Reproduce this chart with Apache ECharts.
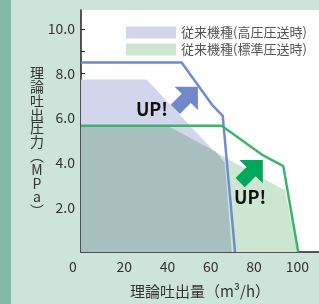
<!DOCTYPE html>
<html>
<head>
<meta charset="utf-8">
<script src="https://cdn.jsdelivr.net/npm/echarts@6/dist/echarts.min.js"></script>
<style>
  html, body { margin: 0; padding: 0; background: #cde4da; }
  #main { width: 319px; height: 304px; }
</style>
</head>
<body>
<div id="main"></div>
<script>
// 従来機種・新機種の吐出性能 [吐出量 m3/h, 吐出圧力 MPa]
const convHigh = [[0, 7.73], [30.3, 7.73], [66.5, 4.0], [69.7, 0]];
const convStd = [[0, 5.6], [41, 5.6], [94.2, 2.77], [100.2, 0]];
const overlap = [[0, 5.6], [41, 5.6], [62.3, 4.5], [66.5, 4.0], [69.7, 0]];
const newHigh = [[0, 8.5], [46.5, 8.5], [61, 6.55], [65.5, 6.1], [71.2, 0]];
const newStd = [[0, 5.66], [65, 5.66], [84.2, 4.33], [93.5, 3.85], [100.4, 0]];
const legendNames = ["従来機種(高圧圧送時)", "従来機種(標準圧送時)"];
const xLabels = [0, 20, 40, 60, 80, 100];
const xTicks = [10, 20, 30, 40, 50, 60, 70, 80, 90, 100];
const yLabels = [2, 4, 6, 8, 10];
const yTicks = [1, 2, 3, 4, 5, 6, 7, 8, 9, 10];
const yName = ["理", "論", "吐", "出", "圧", "力", "︵", "M", "P", "a", "︶"];
// 矢印・UP! の位置
const upHigh = { arrow: [48.8, 6.9], text: [32.8, 6.4] };
const upStd = { arrow: [78.8, 3.62], text: [78.1, 2.44] };

const FONT = "'Noto Sans CJK JP', 'Noto Sans', sans-serif";
const arrowPath = "path://M16.5 0 L33 16.5 L23 16.5 L23 32 L10 32 L10 16.5 L0 16.5 Z";

const myChart = echarts.init(document.getElementById("main"));

function area(name, data, color) {
  return {
    name: name,
    type: "line",
    data: data,
    symbol: "none",
    silent: true,
    lineStyle: { width: 0 },
    itemStyle: { color: color },
    areaStyle: { color: color, opacity: 1 },
  };
}

function upMarks(up, color) {
  return {
    silent: true,
    data: [
      {
        coord: up.arrow,
        symbol: arrowPath,
        symbolSize: [33, 32],
        symbolRotate: -45,
        itemStyle: { color: color },
        label: { show: false },
      },
      {
        coord: up.text,
        symbol: "rect",
        symbolSize: 1,
        itemStyle: { color: "rgba(0,0,0,0)" },
        label: {
          show: true,
          position: "inside",
          formatter: "UP!",
          fontFamily: FONT,
          fontSize: 18,
          fontWeight: "bold",
          color: "#111",
        },
      },
    ],
  };
}

var option = {
  backgroundColor: "#cde4da",
  animation: false,
  graphic: [
    {
      type: "rect",
      left: 0,
      top: 0,
      shape: { width: 11, height: 304 },
      style: { fill: "#80bba7" },
      z: -10,
    },
    {
      // 縦書きの軸名
      type: "text",
      x: 37,
      y: 66,
      style: {
        text: yName.join("\n"),
        fontFamily: FONT,
        fontSize: 14,
        lineHeight: 13.8,
        fill: "#333",
        align: "center",
        verticalAlign: "top",
      },
    },
  ],
  grid: {
    left: 81,
    right: 0,
    top: 10,
    bottom: 50,
    show: true,
    backgroundColor: "#fff",
    borderWidth: 0,
  },
  legend: {
    left: 121,
    top: 21,
    orient: "vertical",
    itemWidth: 50,
    itemHeight: 12,
    itemGap: 4,
    selectedMode: false,
    textStyle: { fontFamily: FONT, fontSize: 13, color: "#555" },
    data: [
      { name: legendNames[0], icon: "rect", itemStyle: { color: "#d2d5ec" } },
      { name: legendNames[1], icon: "rect", itemStyle: { color: "#cde6d2" } },
    ],
  },
  xAxis: {
    type: "value",
    min: 0,
    max: 110,
    name: "理論吐出量（m³/h）",
    nameLocation: "middle",
    nameGap: 32,
    nameTextStyle: { fontFamily: FONT, fontSize: 15, color: "#333" },
    axisLine: { show: true, lineStyle: { color: "#222", width: 1.5 } },
    axisTick: { show: true, inside: true, length: 4, customValues: xTicks, lineStyle: { color: "#222" } },
    splitLine: { show: false },
    axisLabel: {
      customValues: xLabels,
      fontFamily: FONT,
      fontSize: 14,
      color: "#333",
      margin: 8,
      formatter: function (v) {
        return v === 0 ? "{z|0}" : String(v);
      },
      rich: { z: { fontFamily: FONT, fontSize: 14, color: "#333", padding: [0, 16, 0, 0] } },
    },
  },
  yAxis: {
    type: "value",
    min: 0,
    max: 10.85,
    axisLine: { show: true, lineStyle: { color: "#222", width: 1.5 } },
    axisTick: { show: true, inside: true, length: 4, customValues: yTicks, lineStyle: { color: "#222" } },
    splitLine: { show: false },
    axisLabel: {
      customValues: yLabels,
      fontFamily: FONT,
      fontSize: 14,
      color: "#333",
      margin: 6,
      formatter: function (v) {
        return v.toFixed(1);
      },
    },
  },
  series: [
    area(legendNames[0], convHigh, "#d2d5ec"),
    area(legendNames[1], convStd, "#cde6d2"),
    area("overlap", overlap, "#a8bfc0"),
    {
      name: "新機種(高圧)",
      type: "line",
      data: newHigh,
      symbol: "none",
      lineStyle: { color: "#728ad0", width: 2.5 },
      itemStyle: { color: "#728ad0" },
      markPoint: upMarks(upHigh, "#7189cb"),
    },
    {
      name: "新機種(標準)",
      type: "line",
      data: newStd,
      symbol: "none",
      lineStyle: { color: "#3db46b", width: 2.5 },
      itemStyle: { color: "#3db46b" },
      markPoint: upMarks(upStd, "#00a85c"),
    },
  ],
};

option && myChart.setOption(option);
</script>
</body>
</html>
